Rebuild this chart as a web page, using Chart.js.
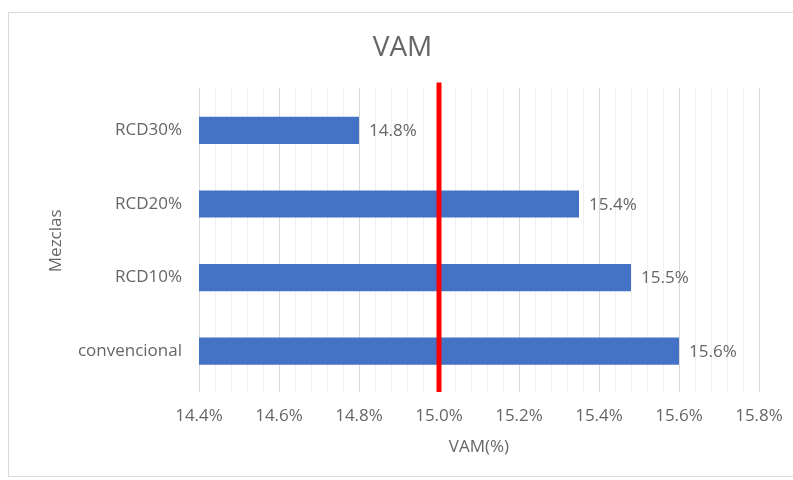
<!DOCTYPE html>
<html><head><meta charset="utf-8">
<script src="https://cdn.jsdelivr.net/npm/chart.js@4"></script>
<style>
html,body{margin:0;padding:0;background:#fff;overflow:hidden;}
#wrap{position:relative;width:793px;height:480px;}
#frame{position:absolute;left:8px;top:12px;width:800px;height:465px;border:1px solid #d9d9d9;box-sizing:border-box;}
canvas{position:absolute;left:0;top:0;}
</style>
</head><body>
<div id="wrap"><div id="frame"></div><canvas id="c" width="793" height="480"></canvas></div>
<script>
const categories = ['RCD30%', 'RCD20%', 'RCD10%', 'convencional'];
const vamValues = [14.80, 15.35, 15.48, 15.60];
const referenceLine = [15.0];
const xAxisRange = [14.4, 15.8];
const xMajorStep = 0.2;
const xMinorStep = 0.04;
const chartTitle = 'VAM';
const xAxisTitle = 'VAM(%)';
const yAxisTitle = 'Mezclas';

const FONT = "'Open Sans', sans-serif";
const TXT = '#666666';

function isMajor(v) {
  const k = Math.round((v - xAxisRange[0]) / xMinorStep);
  const per = Math.round(xMajorStep / xMinorStep);
  return k % per === 0;
}
function pct1(v) {
  return (Math.round(v * 10 + 1e-6) / 10).toFixed(1) + '%';
}

// gridlines slightly taller than the category band, as in the reference
const gridPlugin = {
  id: 'extGrid',
  beforeDatasetsDraw(chart) {
    const {ctx, chartArea, scales} = chart;
    ctx.save();
    ctx.lineWidth = 1;
    scales.x.ticks.forEach(t => {
      const x = Math.round(scales.x.getPixelForValue(t.value)) + 0.5;
      ctx.strokeStyle = isMajor(t.value) ? '#d9d9d9' : '#f0f0f0';
      ctx.beginPath();
      ctx.moveTo(x, chartArea.top - 6);
      ctx.lineTo(x, chartArea.bottom + 4);
      ctx.stroke();
    });
    ctx.restore();
  }
};

const refLinePlugin = {
  id: 'refLine',
  afterDatasetsDraw(chart) {
    const {ctx, chartArea, scales} = chart;
    ctx.save();
    ctx.strokeStyle = '#ff0000';
    ctx.lineWidth = 5;
    referenceLine.forEach(v => {
      const x = scales.x.getPixelForValue(v);
      ctx.beginPath();
      ctx.moveTo(x, chartArea.top - 11);
      ctx.lineTo(x, chartArea.bottom + 4);
      ctx.stroke();
    });
    ctx.restore();
  }
};

const labelPlugin = {
  id: 'barLabels',
  afterDraw(chart) {
    const {ctx} = chart;
    const meta = chart.getDatasetMeta(0);
    ctx.save();
    ctx.fillStyle = TXT;
    ctx.font = "17px " + FONT;
    ctx.textAlign = 'left';
    ctx.textBaseline = 'middle';
    meta.data.forEach((el, i) => {
      ctx.fillText(pct1(vamValues[i]), el.x + 10, el.y + 1);
    });
    ctx.restore();
  }
};

new Chart(document.getElementById('c'), {
  type: 'bar',
  data: {
    labels: categories,
    datasets: [{
      data: vamValues,
      backgroundColor: '#4472C4',
      borderWidth: 0,
      categoryPercentage: 1,
      barPercentage: 0.37
    }]
  },
  options: {
    indexAxis: 'y',
    responsive: false,
    animation: false,
    layout: {padding: {left: 46, right: 34, top: 0, bottom: 0}},
    plugins: {
      legend: {display: false},
      tooltip: {enabled: false},
      title: {
        display: true,
        text: chartTitle,
        color: TXT,
        font: {family: FONT, size: 28, weight: 'normal'},
        padding: {top: 31, bottom: 29}
      }
    },
    scales: {
      x: {
        type: 'linear',
        min: xAxisRange[0],
        max: xAxisRange[1],
        border: {display: false},
        grid: {display: false, drawTicks: false},
        ticks: {
          stepSize: xMinorStep,
          autoSkip: false,
          maxRotation: 0,
          padding: 18,
          color: TXT,
          font: {family: FONT, size: 17},
          callback: v => isMajor(v) ? v.toFixed(1) + '%' : ''
        },
        title: {
          display: true,
          text: xAxisTitle,
          color: TXT,
          font: {family: FONT, size: 17},
          padding: {top: 0, bottom: 23}
        },
        afterFit: s => { s.height = 92; s.paddingLeft = 0; s.paddingRight = 0; }
      },
      y: {
        border: {display: false},
        grid: {display: false, drawTicks: false},
        ticks: {
          padding: 17,
          color: TXT,
          font: {family: FONT, size: 17}
        },
        title: {
          display: true,
          text: yAxisTitle,
          color: TXT,
          font: {family: FONT, size: 17},
          padding: {top: 0, bottom: 0}
        },
        afterFit: s => { s.width = 153; s.paddingTop = 0; s.paddingBottom = 0; }
      }
    }
  },
  plugins: [gridPlugin, refLinePlugin, labelPlugin]
});
</script>
</body></html>
